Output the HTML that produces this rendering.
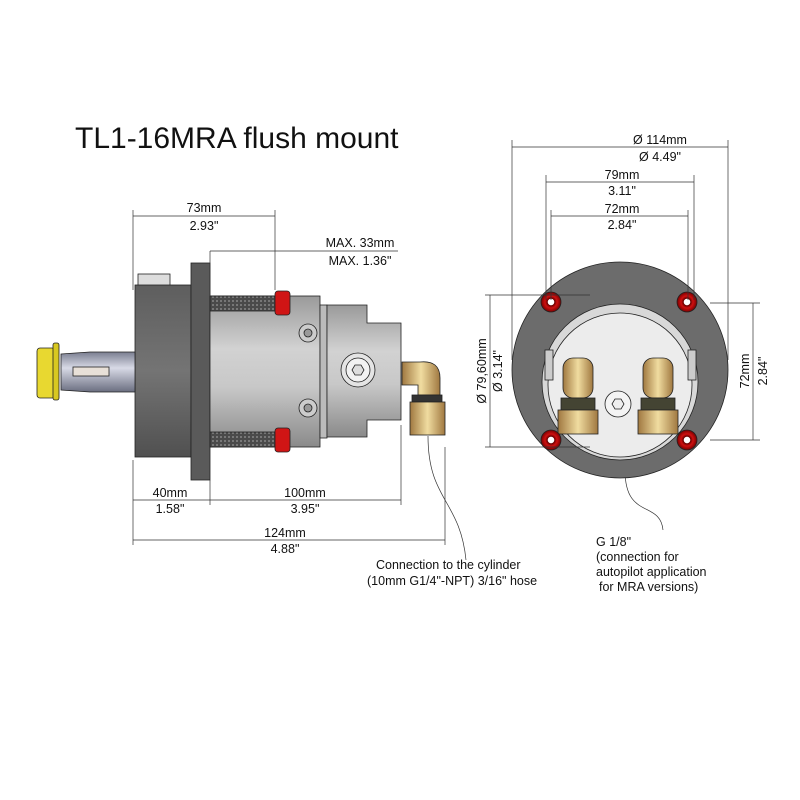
<!DOCTYPE html>
<html><head><meta charset="utf-8"><style>
html,body{margin:0;padding:0;background:#fff}
svg{display:block}
text{font-family:"Liberation Sans",sans-serif;fill:#111}
</style></head><body>
<svg width="800" height="800" viewBox="0 0 800 800" xmlns="http://www.w3.org/2000/svg">
<defs>
<linearGradient id="dk" x1="0" y1="0" x2="0" y2="1"><stop offset="0" stop-color="#5e5e5e"/><stop offset=".5" stop-color="#747474"/><stop offset="1" stop-color="#505050"/></linearGradient>
<linearGradient id="sv" x1="0" y1="0" x2="0" y2="1"><stop offset="0" stop-color="#9a9a9a"/><stop offset=".35" stop-color="#d2d2d2"/><stop offset=".6" stop-color="#c8c8c8"/><stop offset="1" stop-color="#8a8a8a"/></linearGradient>
<linearGradient id="sh" x1="0" y1="0" x2="0" y2="1"><stop offset="0" stop-color="#7a7e90"/><stop offset=".4" stop-color="#d8dae6"/><stop offset="1" stop-color="#6a6e80"/></linearGradient>
<linearGradient id="br" x1="0" y1="0" x2="1" y2="0"><stop offset="0" stop-color="#a07840"/><stop offset=".5" stop-color="#f0dca0"/><stop offset="1" stop-color="#a07840"/></linearGradient>
<radialGradient id="rd"><stop offset=".3" stop-color="#fff"/><stop offset=".35" stop-color="#600"/><stop offset=".6" stop-color="#d01010"/><stop offset="1" stop-color="#700"/></radialGradient>
<pattern id="kn" width="4" height="4" patternUnits="userSpaceOnUse"><rect width="4" height="4" fill="#4a4a4a"/><rect width="2" height="2" fill="#777"/></pattern>
</defs>

<text x="75" y="148" font-size="30">TL1-16MRA flush mount</text>

<!-- SIDE VIEW -->
<g stroke="#222" stroke-width="0.8">
<rect x="138" y="274" width="32" height="12" fill="#ddd"/>
<rect x="135" y="285" width="56" height="172" fill="url(#dk)"/>
<rect x="191" y="263" width="19" height="217" fill="#5a5a5a"/>
<rect x="210" y="296" width="110" height="151" fill="url(#sv)"/>
<rect x="210" y="296" width="65" height="15" fill="url(#kn)"/>
<rect x="210" y="432" width="65" height="15" fill="url(#kn)"/>
<rect x="320" y="305" width="7" height="133" fill="#bbb"/>
<path d="M327 305 H367 V323 H401 V420 H367 V437 H327 Z" fill="url(#sv)"/>
<rect x="275" y="291" width="15" height="24" rx="3" fill="#d01515"/>
<rect x="275" y="428" width="15" height="24" rx="3" fill="#d01515"/>
<circle cx="308" cy="333" r="9" fill="#ccc"/><circle cx="308" cy="333" r="4" fill="#999"/>
<circle cx="308" cy="408" r="9" fill="#ccc"/><circle cx="308" cy="408" r="4" fill="#999"/>
<circle cx="358" cy="370" r="17" fill="#e4e4e4"/><circle cx="358" cy="370" r="12" fill="#f2f2f2"/>
<polygon points="352,370 355,365 361,365 364,370 361,375 355,375" fill="#ddd"/>
<path d="M61 354 L90 352 H135 V392 H90 L61 390 Z" fill="url(#sh)"/>
<rect x="73" y="367" width="36" height="9" fill="#e8e0d8"/>
<rect x="37" y="348" width="18" height="50" rx="3" fill="#e8d830"/>
<rect x="53" y="343" width="6" height="57" rx="2" fill="#d8c820"/>
<path d="M402 362 H420 Q440 360 440 378 V395 H418 V385 H402 Z" fill="url(#br)"/>
<rect x="412" y="395" width="30" height="7" fill="#333"/>
<rect x="410" y="402" width="35" height="33" fill="url(#br)"/>
</g>

<!-- side dims -->
<g stroke="#333" stroke-width="0.7" fill="none">
<path d="M133 210 V290 M275 210 V290 M133 216 H275 M210 251 V296 M210 251 H275 M275 251 V245 M275 251 H398"/>
<path d="M133 460 V545 M210 480 V505 M401 425 V505 M445 447 V545 M133 500 H401 M133 540 H445"/>
<path d="M428 436 C428 500 460 500 466 560"/>
<path d="M625 420 V470 C625 520 660 500 663 530"/>
</g>
<g font-size="12.5" text-anchor="middle">
<text x="204" y="212">73mm</text><text x="204" y="230">2.93"</text>
<text x="360" y="247">MAX. 33mm</text><text x="360" y="265">MAX. 1.36"</text>
<text x="170" y="497">40mm</text><text x="170" y="513">1.58"</text>
<text x="305" y="497">100mm</text><text x="305" y="513">3.95"</text>
<text x="285" y="537">124mm</text><text x="285" y="553">4.88"</text>
<text x="660" y="144">Ø 114mm</text><text x="660" y="161">Ø 4.49"</text>
<text x="622" y="179">79mm</text><text x="622" y="195">3.11"</text>
<text x="622" y="213">72mm</text><text x="622" y="229">2.84"</text>
</g>
<g font-size="12.5">
<text x="376" y="569">Connection to the cylinder</text>
<text x="367" y="585">(10mm G1/4"-NPT) 3/16" hose</text>
<text x="596" y="546">G 1/8"</text>
<text x="596" y="561">(connection for</text>
<text x="596" y="576">autopilot application</text>
<text x="599" y="591">for MRA versions)</text>
</g>

<!-- FRONT VIEW -->
<g stroke="#222" stroke-width="0.8">
<circle cx="620" cy="370" r="108" fill="#6c6c6c"/>
<circle cx="620" cy="382" r="78" fill="#d8d8d8"/>
<circle cx="620" cy="385" r="72" fill="#ececec"/>
<rect x="545" y="350" width="8" height="30" fill="#ccc"/>
<rect x="688" y="350" width="8" height="30" fill="#ccc"/>
<rect x="563" y="358" width="30" height="40" rx="10" fill="url(#br)"/>
<rect x="561" y="398" width="34" height="12" fill="#443"/>
<rect x="558" y="410" width="40" height="24" fill="url(#br)"/>
<rect x="643" y="358" width="30" height="40" rx="10" fill="url(#br)"/>
<rect x="641" y="398" width="34" height="12" fill="#443"/>
<rect x="638" y="410" width="40" height="24" fill="url(#br)"/>
<circle cx="618" cy="404" r="13" fill="#f4f4f4"/>
<polygon points="612,404 615,399 621,399 624,404 621,409 615,409" fill="#eee"/>
<circle cx="551" cy="302" r="10" fill="url(#rd)"/>
<circle cx="687" cy="302" r="10" fill="url(#rd)"/>
<circle cx="551" cy="440" r="10" fill="url(#rd)"/>
<circle cx="687" cy="440" r="10" fill="url(#rd)"/>
</g>
<g stroke="#333" stroke-width="0.7" fill="none">
<path d="M512 140 V360 M728 140 V360 M512 147 H728"/>
<path d="M546 175 V300 M694 175 V300 M546 182 H694"/>
<path d="M551 210 V300 M688 210 V300 M551 216 H688"/>
<path d="M485 295 H590 M485 447 H590 M490 295 V447"/>
<path d="M710 303 H760 M710 440 H760 M753 303 V440"/>
</g>
<g font-size="12.5" text-anchor="middle">
<text transform="translate(486 371) rotate(-90)">Ø 79,60mm</text>
<text transform="translate(502 371) rotate(-90)">Ø 3.14"</text>
<text transform="translate(749 371) rotate(-90)">72mm</text>
<text transform="translate(767 371) rotate(-90)">2.84"</text>
</g>
</svg>
</body></html>
